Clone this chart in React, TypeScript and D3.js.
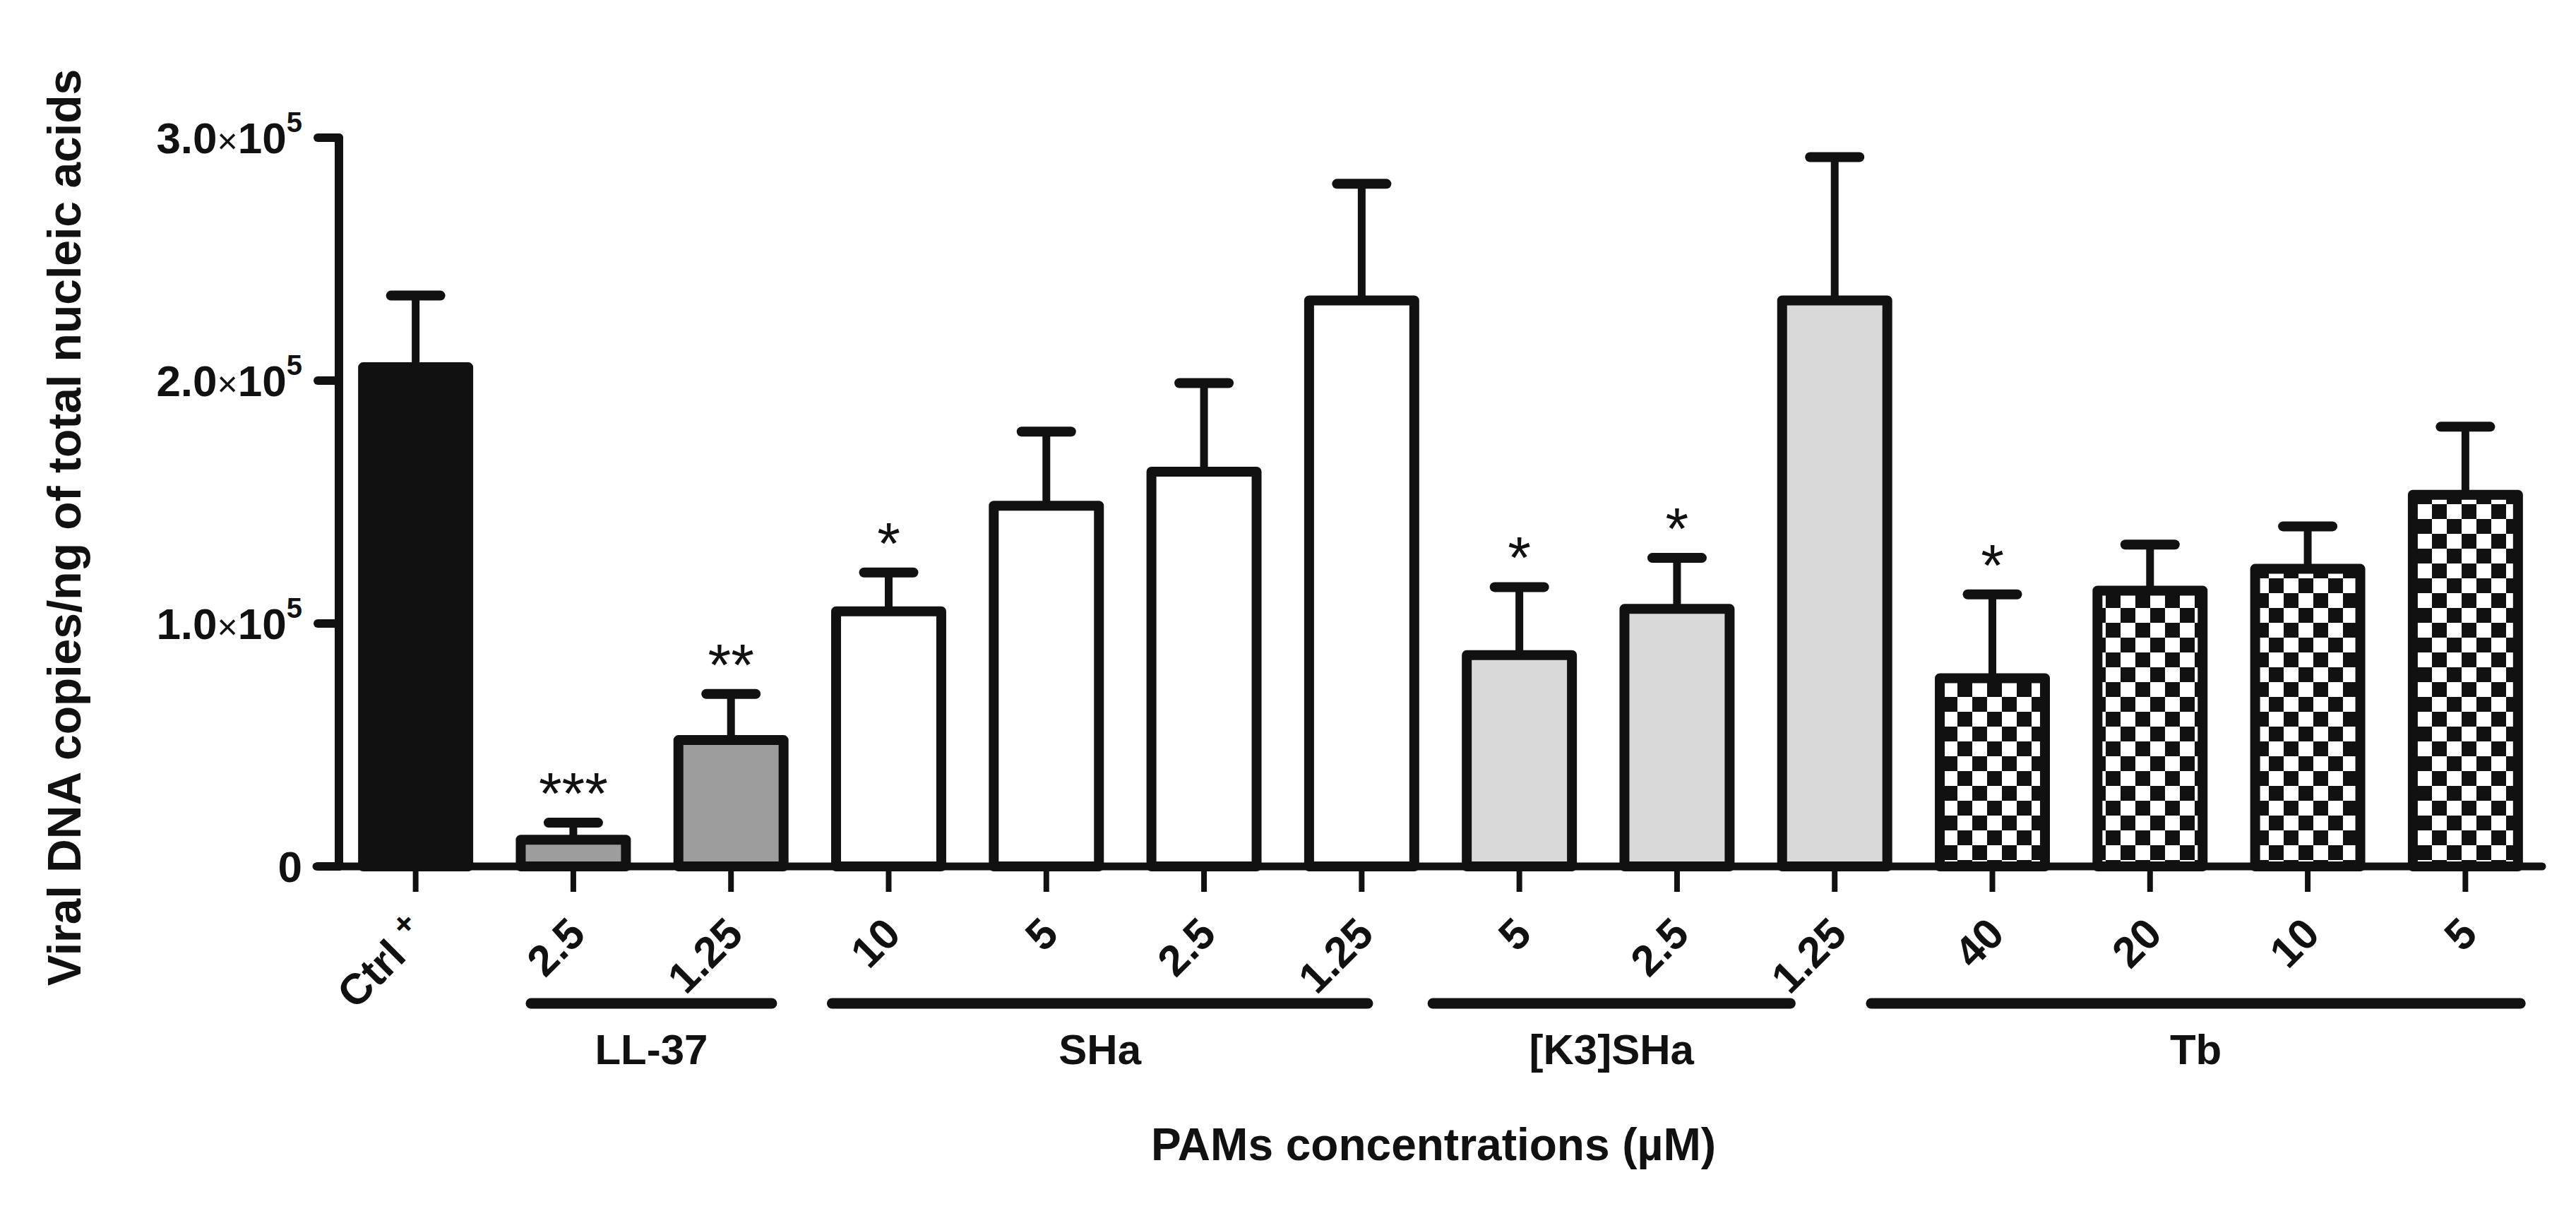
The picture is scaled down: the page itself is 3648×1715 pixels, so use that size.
import * as d3 from 'd3';

// concentration under each bar (µM)
const concLabels = ['Ctrl +', '2.5', '1.25', '10', '5', '2.5', '1.25', '5', '2.5', '1.25', '40', '20', '10', '5'];
const groupOf = ['Ctrl', 'LL-37', 'LL-37', 'SHa', 'SHa', 'SHa', 'SHa', '[K3]SHa', '[K3]SHa', '[K3]SHa', 'Tb', 'Tb', 'Tb', 'Tb'];
// viral DNA copies / ng of total nucleic acids
const means = [205500, 11000, 52000, 105000, 148500, 162500, 233000, 87000, 106000, 233000, 77500, 113500, 122500, 153000];
const sems = [29500, 7000, 19000, 16000, 30500, 36500, 48000, 28000, 21000, 59000, 34500, 19000, 17500, 28000];
const stars = ['', '***', '**', '*', '', '', '', '*', '*', '', '*', '', '', ''];
const yTicks = [0, 100000, 200000, 300000];

const groupNames = ['LL-37', 'SHa', '[K3]SHa', 'Tb'];
// underline extent, in band steps, relative to the first / last bar of each group
const groupSpan: Record<string, [number, number]> = {
  'LL-37': [-0.3, 0.29],
  SHa: [-0.39, 0.07],
  '[K3]SHa': [-0.58, -0.25],
  Tb: [-0.8, 0.38],
};

const fills: Record<string, string> = {
  Ctrl: '#111111',
  'LL-37': '#9d9d9d',
  SHa: '#ffffff',
  '[K3]SHa': '#d9d9d9',
  Tb: 'url(#checker)',
};

const W = 3648;
const H = 1715;
const INK = '#111111';
const FONT = "'Liberation Sans', Arial, Helvetica, sans-serif";

export default function App() {
  const x = d3.scaleBand<number>()
    .domain(d3.range(concLabels.length))
    .range([480, 3600])
    .paddingInner(0.333)
    .paddingOuter(0.153);

  const y = d3.scaleLinear().domain([0, 300000]).range([1227, 195]);

  const bw = x.bandwidth();
  const cx = (i: number) => (x(i) as number) + bw / 2;
  const y0 = y(0);
  const axisX = x.range()[0];

  const fmtTick = (v: number) => (v / 1e5).toFixed(1);

  return (
    <svg
      width={W}
      height={H}
      viewBox={`0 0 ${W} ${H}`}
      style={{ position: 'absolute', left: 0, top: 0, display: 'block', background: '#fff' }}
      fontFamily={FONT}
    >
      <defs>
        <pattern id="checker" patternUnits="userSpaceOnUse" width={42} height={42}>
          <rect width={42} height={42} fill="#fff" />
          <rect x={0} y={0} width={21} height={21} fill={INK} />
          <rect x={21} y={21} width={21} height={21} fill={INK} />
        </pattern>
      </defs>
      <rect width={W} height={H} fill="#fff" />

      {/* bars */}
      <g stroke={INK} strokeWidth={14} strokeLinejoin="round">
        {means.map((m, i) => (
          <rect
            key={i}
            x={x(i)}
            y={y(m)}
            width={bw}
            height={y0 - y(m)}
            fill={fills[groupOf[i]]}
          />
        ))}
      </g>

      {/* error bars (upper only) */}
      <g stroke={INK} strokeLinecap="round">
        {means.map((m, i) => (
          <g key={i}>
            <line x1={cx(i)} x2={cx(i)} y1={y(m)} y2={y(m + sems[i])} strokeWidth={11} strokeLinecap="butt" />
            <line x1={cx(i) - 35} x2={cx(i) + 35} y1={y(m + sems[i])} y2={y(m + sems[i])} strokeWidth={14} />
          </g>
        ))}
      </g>

      {/* significance */}
      <g fontSize={84} textAnchor="middle" fill={INK}>
        {stars.map((s, i) =>
          s ? (
            <text key={i} x={cx(i)} y={y(means[i] + sems[i]) - 12}>
              {s}
            </text>
          ) : null
        )}
      </g>

      {/* y axis */}
      <g stroke={INK} strokeLinecap="round">
        <line x1={axisX} x2={axisX} y1={y(300000)} y2={y0} strokeWidth={12} />
        {yTicks.map((t) => (
          <line key={t} x1={axisX - 30} x2={axisX} y1={y(t)} y2={y(t)} strokeWidth={12} />
        ))}
      </g>
      <g fontSize={62} fontWeight="bold" textAnchor="end" fill={INK}>
        {yTicks.map((t) => (
          <text key={t} x={428} y={y(t)} dy="0.36em">
            {t === 0 ? (
              '0'
            ) : (
              <>
                {fmtTick(t)}
                <tspan fontWeight="normal" fontSize={50}>×</tspan>
                10
                <tspan fontSize={40} dy="-0.75em">5</tspan>
              </>
            )}
          </text>
        ))}
      </g>

      {/* x axis */}
      <g stroke={INK}>
        <line x1={axisX - 32} x2={x.range()[1]} y1={y0} y2={y0} strokeWidth={11} strokeLinecap="round" />
        {concLabels.map((_, i) => (
          <line key={i} x1={cx(i)} x2={cx(i)} y1={y0} y2={y0 + 36} strokeWidth={8} />
        ))}
      </g>
      <g fontSize={61} fontWeight="bold" textAnchor="end" fill={INK}>
        {concLabels.map((c, i) => (
          <text key={i} transform={`translate(${cx(i) + 20},${y0 + 99}) rotate(-45)`}>
            {c === 'Ctrl +' ? (
              <>
                Ctrl <tspan fontSize={46} dy="-0.5em">+</tspan>
              </>
            ) : (
              c
            )}
          </text>
        ))}
      </g>

      {/* group underlines + names */}
      {groupNames.map((g) => {
        const idx = groupOf.map((v, i) => (v === g ? i : -1)).filter((i) => i >= 0);
        const step = x.step();
        const [a, b] = groupSpan[g];
        const xs = cx(idx[0]) + a * step;
        const xe = cx(idx[idx.length - 1]) + b * step;
        return (
          <g key={g}>
            <line x1={xs + 7} x2={xe - 7} y1={1421} y2={1421} stroke={INK} strokeWidth={15} strokeLinecap="round" />
            <text x={(xs + xe) / 2} y={1507} textAnchor="middle" fontSize={60} fontWeight="bold" fill={INK}>
              {g}
            </text>
          </g>
        );
      })}

      {/* axis titles */}
      <text x={2030} y={1643} textAnchor="middle" fontSize={64} fontWeight="bold" fill={INK}>
        PAMs concentrations (µM)
      </text>
      <text
        transform={`translate(114,${(105 + 1389) / 2}) rotate(-90)`}
        textAnchor="middle"
        fontSize={66}
        fontWeight="bold"
        fill={INK}
      >
        Viral DNA copies/ng of total nucleic acids
      </text>
    </svg>
  );
}
